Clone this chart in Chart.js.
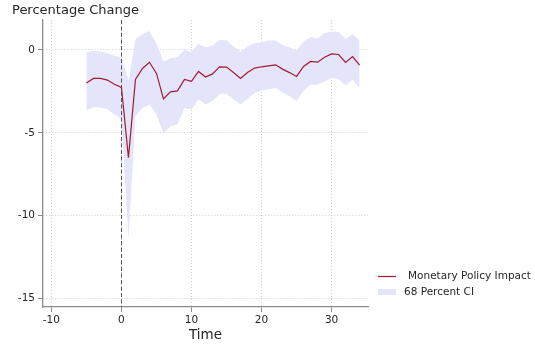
<!DOCTYPE html>
<html>
<head>
<meta charset="utf-8">
<script src="https://cdn.jsdelivr.net/npm/chart.js@4.4.1/dist/chart.umd.min.js"></script>
<style>
  html, body { margin: 0; padding: 0; background: #ffffff; }
  #wrap { width: 535px; height: 348px; }
</style>
</head>
<body>
<div id="wrap"><canvas id="irf" width="535" height="348"></canvas></div>
<script>
// Impulse response of the monetary policy shock, with its 68% band
const periods = [-5, -4, -3, -2, -1, 0, 1, 2, 3, 4, 5, 6, 7, 8, 9, 10, 11, 12, 13, 14,
                 15, 16, 17, 18, 19, 20, 21, 22, 23, 24, 25, 26, 27, 28, 29, 30, 31, 32, 33, 34];
const impact = [-2.0, -1.72, -1.72, -1.82, -2.07, -2.26, -6.5, -1.78, -1.12, -0.75,
                -1.42, -2.95, -2.53, -2.47, -1.78, -1.9, -1.3, -1.64, -1.45, -1.03,
                -1.04, -1.37, -1.73, -1.37, -1.1, -1.02, -0.96, -0.9, -1.16, -1.37,
                -1.6, -1.0, -0.7, -0.74, -0.44, -0.24, -0.28, -0.76, -0.4, -0.92];
const ciUpper = [-0.14, -0.06, -0.1, -0.2, -0.36, -0.44, -1.87, 0.64, 0.94, 1.14,
                 0.35, -0.7, -0.5, -0.44, 0.0, -0.14, 0.36, 0.14, 0.26, 0.6,
                 0.56, 0.2, -0.1, 0.2, 0.4, 0.44, 0.56, 0.56, 0.3, 0.14,
                 -0.04, 0.5, 0.76, 0.7, 1.0, 1.1, 1.08, 0.64, 0.96, 0.56];
const ciLower = [-3.65, -3.45, -3.47, -3.57, -3.9, -4.2, -11.4, -4.0, -3.5, -3.3,
                 -3.9, -5.05, -4.6, -4.5, -3.5, -3.6, -2.97, -3.3, -3.1, -2.67,
                 -2.65, -2.97, -3.3, -2.96, -2.6, -2.45, -2.37, -2.3, -2.57, -2.8,
                 -3.1, -2.45, -2.1, -2.1, -1.9, -1.7, -1.75, -2.17, -1.8, -2.3];
const xTicks = [-10, 0, 10, 20, 30];
const yTicks = [0, -5, -10, -15];
const xRange = [-11.2, 35.2];
const yRange = [-15.5, 1.8];
const shockPeriod = 0;

const seriesLabel = 'Monetary Policy Impact';
const bandLabel = '68 Percent CI';
const yTitle = 'Percentage Change';
const xTitle = 'Time';

const lineColor = '#a31b2e';
const bandColor = '#e4e4fb';
const inkColor = '#262626';
const axisColor = '#8c8c8c';
const gridColor = '#cfcfcf';
const fontFamily = '"DejaVu Sans", Verdana, sans-serif';

const toPoints = vals => periods.map((t, i) => ({ x: t, y: vals[i] }));

// dashed marker at the shock date, drawn just under the response line
const shockMarker = {
  id: 'shockMarker',
  beforeDatasetDraw(chart, args) {
    if (args.index !== 0) return;
    const { ctx, chartArea } = chart;
    const x = Math.round(chart.scales.x.getPixelForValue(shockPeriod)) + 0.5;
    ctx.save();
    ctx.strokeStyle = '#555555';
    ctx.lineWidth = 1;
    ctx.setLineDash([4, 2.5]);
    ctx.beginPath();
    ctx.moveTo(x, chartArea.top);
    ctx.lineTo(x, chartArea.bottom);
    ctx.stroke();
    ctx.restore();
  }
};

// heading over the y axis and the legend beside the plot
const sideText = {
  id: 'sideText',
  afterDraw(chart) {
    const { ctx, chartArea } = chart;
    ctx.save();
    ctx.fillStyle = inkColor;
    ctx.textBaseline = 'middle';
    ctx.font = '13px ' + fontFamily;
    ctx.fillText(yTitle, 12, 11);

    const lx = chartArea.right + 10;
    ctx.font = '10.5px ' + fontFamily;
    ctx.strokeStyle = lineColor;
    ctx.lineWidth = 1.2;
    ctx.beginPath();
    ctx.moveTo(lx, 276.5);
    ctx.lineTo(lx + 18, 276.5);
    ctx.stroke();
    ctx.fillText(seriesLabel, lx + 30, 276);

    ctx.fillStyle = bandColor;
    ctx.fillRect(lx, 289, 18, 6);
    ctx.fillStyle = inkColor;
    ctx.fillText(bandLabel, lx + 26, 292);
    ctx.restore();
  }
};

const fixedTicks = list => scale => { scale.ticks = list.map(v => ({ value: v })); };

new Chart(document.getElementById('irf'), {
  type: 'line',
  data: {
    datasets: [
      {
        label: seriesLabel,
        data: toPoints(impact),
        borderColor: lineColor,
        borderWidth: 1.2,
        pointRadius: 0,
        tension: 0,
        fill: false
      },
      {
        label: 'lower',
        data: toPoints(ciLower),
        borderWidth: 0,
        borderColor: 'rgba(0,0,0,0)',
        pointRadius: 0,
        fill: false
      },
      {
        label: bandLabel,
        data: toPoints(ciUpper),
        borderWidth: 0,
        borderColor: 'rgba(0,0,0,0)',
        backgroundColor: bandColor,
        pointRadius: 0,
        fill: '-1'
      }
    ]
  },
  options: {
    responsive: false,
    animation: false,
    events: [],
    layout: { padding: { left: 0, top: 20, right: 167, bottom: 0 } },
    plugins: {
      legend: { display: false },
      tooltip: { enabled: false },
      title: { display: false }
    },
    scales: {
      x: {
        type: 'linear',
        min: xRange[0],
        max: xRange[1],
        afterBuildTicks: fixedTicks(xTicks),
        afterFit: s => { s.height = 41; },
        grid: {
          color: gridColor,
          lineWidth: 1,
          drawTicks: true,
          tickLength: 5,
          tickColor: axisColor,
          tickBorderDash: []
        },
        border: { display: true, color: axisColor, width: 1.3, dash: [1, 2] },
        ticks: {
          color: inkColor,
          padding: 2,
          maxRotation: 0,
          font: { family: fontFamily, size: 10.5 }
        },
        title: {
          display: true,
          text: xTitle,
          color: inkColor,
          padding: { top: 0, bottom: 4 },
          font: { family: fontFamily, size: 13.5 }
        }
      },
      y: {
        type: 'linear',
        min: yRange[0],
        max: yRange[1],
        afterBuildTicks: fixedTicks(yTicks),
        afterFit: s => { s.width = 43; },
        grid: {
          color: gridColor,
          lineWidth: 1,
          drawTicks: true,
          tickLength: 5,
          tickColor: axisColor,
          tickBorderDash: []
        },
        border: { display: true, color: axisColor, width: 1.3, dash: [1, 2] },
        ticks: {
          color: inkColor,
          padding: 3,
          font: { family: fontFamily, size: 10.5 }
        }
      }
    }
  },
  plugins: [shockMarker, sideText]
});
</script>
</body>
</html>
